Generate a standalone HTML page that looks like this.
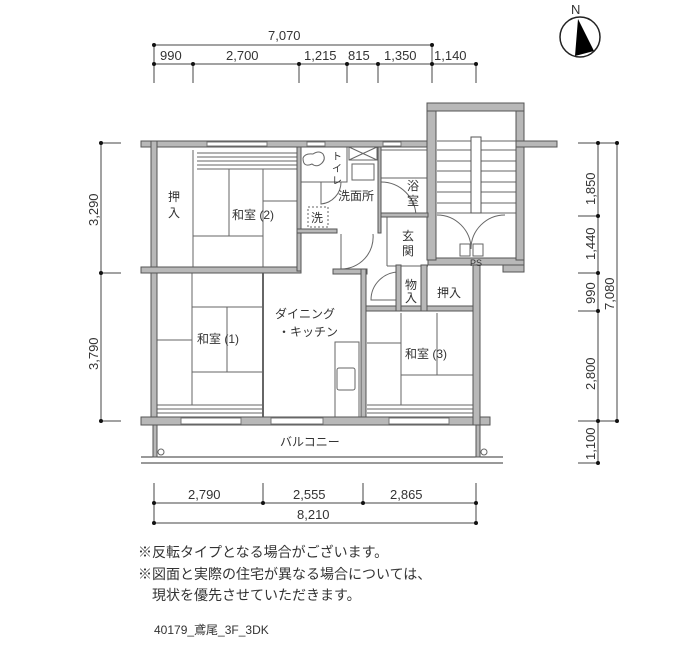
<!DOCTYPE html>
<html><head><meta charset="utf-8"><style>
body{margin:0;background:#fff;width:700px;height:650px;overflow:hidden}
svg{display:block}
text{font-family:"Liberation Sans","Noto Sans CJK JP",sans-serif;fill:#333}
.w{fill:#b8b8b8;stroke:#555;stroke-width:1}
.l{stroke:#666;stroke-width:1;fill:none}
.d{stroke:#444;stroke-width:1;fill:none}
.dot{fill:#111}
</style></head><body>
<svg width="700" height="650" viewBox="0 0 700 650">
<!-- top dims -->
<g class="d">
<line x1="154" y1="45" x2="432" y2="45"/>
<line x1="154" y1="64" x2="476" y2="64"/>
<line x1="154" y1="45" x2="154" y2="83"/><line x1="193" y1="64" x2="193" y2="83"/>
<line x1="299" y1="64" x2="299" y2="83"/><line x1="347" y1="64" x2="347" y2="83"/>
<line x1="378" y1="64" x2="378" y2="83"/><line x1="432" y1="45" x2="432" y2="83"/>
<line x1="476" y1="64" x2="476" y2="83"/>
</g>
<g class="dot">
<circle cx="154" cy="45" r="2"/><circle cx="432" cy="45" r="2"/>
<circle cx="154" cy="64" r="2"/><circle cx="193" cy="64" r="2"/><circle cx="299" cy="64" r="2"/>
<circle cx="347" cy="64" r="2"/><circle cx="378" cy="64" r="2"/><circle cx="432" cy="64" r="2"/><circle cx="476" cy="64" r="2"/>
</g>
<g font-size="13">
<text x="268" y="40">7,070</text>
<text x="160" y="60">990</text><text x="226" y="60">2,700</text>
<text x="304" y="60">1,215</text><text x="348" y="60">815</text>
<text x="384" y="60">1,350</text><text x="434" y="60">1,140</text>
</g>
<!-- compass -->
<circle cx="580" cy="37" r="20" fill="none" stroke="#222" stroke-width="1.5"/>
<polygon points="578,19 575,56 594,51" fill="#000"/>
<text x="571" y="14" font-size="13">N</text>
<!-- left dims -->
<g class="d"><line x1="101" y1="143" x2="101" y2="421"/>
<line x1="101" y1="143" x2="121" y2="143"/><line x1="101" y1="273" x2="121" y2="273"/><line x1="101" y1="421" x2="121" y2="421"/></g>
<g class="dot"><circle cx="101" cy="143" r="2"/><circle cx="101" cy="273" r="2"/><circle cx="101" cy="421" r="2"/></g>
<text font-size="13" transform="translate(98,226) rotate(-90)">3,290</text>
<text font-size="13" transform="translate(98,370) rotate(-90)">3,790</text>
<!-- right dims -->
<g class="d"><line x1="598" y1="143" x2="598" y2="463"/><line x1="617" y1="143" x2="617" y2="421"/>
<line x1="578" y1="143" x2="617" y2="143"/><line x1="578" y1="216" x2="598" y2="216"/>
<line x1="578" y1="273" x2="598" y2="273"/><line x1="578" y1="311" x2="598" y2="311"/>
<line x1="578" y1="421" x2="617" y2="421"/><line x1="578" y1="463" x2="598" y2="463"/></g>
<g class="dot"><circle cx="598" cy="143" r="2"/><circle cx="617" cy="143" r="2"/><circle cx="598" cy="216" r="2"/><circle cx="598" cy="273" r="2"/><circle cx="598" cy="311" r="2"/><circle cx="598" cy="421" r="2"/><circle cx="617" cy="421" r="2"/><circle cx="598" cy="463" r="2"/></g>
<g font-size="13">
<text transform="translate(595,205) rotate(-90)">1,850</text>
<text transform="translate(595,260) rotate(-90)">1,440</text>
<text transform="translate(595,304) rotate(-90)">990</text>
<text transform="translate(614,310) rotate(-90)">7,080</text>
<text transform="translate(595,390) rotate(-90)">2,800</text>
<text transform="translate(595,460) rotate(-90)">1,100</text>
</g>
<!-- bottom dims -->
<g class="d"><line x1="154" y1="503" x2="476" y2="503"/><line x1="154" y1="523" x2="476" y2="523"/>
<line x1="154" y1="483" x2="154" y2="523"/><line x1="263" y1="483" x2="263" y2="503"/>
<line x1="363" y1="483" x2="363" y2="503"/><line x1="476" y1="483" x2="476" y2="523"/></g>
<g class="dot"><circle cx="154" cy="503" r="2"/><circle cx="263" cy="503" r="2"/><circle cx="363" cy="503" r="2"/><circle cx="476" cy="503" r="2"/><circle cx="154" cy="523" r="2"/><circle cx="476" cy="523" r="2"/></g>
<g font-size="13"><text x="188" y="499">2,790</text><text x="293" y="499">2,555</text><text x="390" y="499">2,865</text><text x="297" y="519">8,210</text></g>

<!-- interior light lines (tatami etc) -->
<g class="l">
<line x1="193" y1="150" x2="193" y2="268"/>
<line x1="197" y1="153" x2="297" y2="153"/><line x1="197" y1="157" x2="297" y2="157"/><line x1="197" y1="161" x2="297" y2="161"/><line x1="197" y1="165" x2="297" y2="165"/><line x1="197" y1="169" x2="297" y2="169"/>
<line x1="229" y1="169" x2="229" y2="236"/><line x1="263" y1="169" x2="263" y2="268"/>
<line x1="263" y1="201" x2="297" y2="201"/><line x1="193" y1="236" x2="263" y2="236"/>
<line x1="193" y1="268" x2="297" y2="268"/><line x1="297" y1="201" x2="297" y2="268"/>
<line x1="192" y1="273" x2="192" y2="405"/><line x1="157" y1="340" x2="192" y2="340"/>
<line x1="192" y1="307" x2="263" y2="307"/><line x1="227" y1="307" x2="227" y2="372"/><line x1="192" y1="372" x2="263" y2="372"/>
<line x1="157" y1="405" x2="263" y2="405"/><line x1="157" y1="409" x2="263" y2="409"/><line x1="157" y1="413" x2="263" y2="413"/>
<line x1="263" y1="273" x2="263" y2="417" stroke-width="2"/>
<line x1="401" y1="313" x2="401" y2="405"/><line x1="367" y1="343" x2="401" y2="343"/>
<line x1="401" y1="375" x2="473" y2="375"/><line x1="437" y1="313" x2="437" y2="375"/>
<line x1="367" y1="405" x2="473" y2="405"/><line x1="367" y1="409" x2="473" y2="409"/><line x1="367" y1="413" x2="473" y2="413"/>
<rect x="335" y="342" width="24" height="75"/><rect x="337" y="368" width="18" height="22" rx="2"/>
<!-- toilet -->
<rect x="300" y="147" width="47" height="35"/>
<path d="M303,158 q2,-5 10,-4 q6,-4 10,0 q3,5 -1,9 q-5,5 -10,1 q-9,4 -9,-6z"/>
<rect x="349" y="147" width="28" height="13"/><line x1="349" y1="147" x2="377" y2="160"/><line x1="377" y1="147" x2="349" y2="160"/>
<rect x="352" y="164" width="22" height="16"/>
<rect x="308" y="207" width="20" height="20" stroke-dasharray="2,2"/>
<path d="M321,182 v22 a22,22 0 0 0 20,-22"/>
<path d="M341,234 v35 a32,32 0 0 0 32,-35"/>
<path d="M381,182 a35,35 0 0 1 35,35 h-35"/>
<rect x="381" y="150" width="46" height="28"/>
<line x1="387" y1="217" x2="387" y2="266"/><line x1="387" y1="266" x2="428" y2="266"/>
<path d="M399,272 a28,28 0 0 0 -28,28 h28"/>
<path d="M437,215 a34,34 0 0 1 34,34 M505,215 a34,34 0 0 0 -34,34"/>
<rect x="460" y="244" width="10" height="12"/><rect x="473" y="244" width="10" height="12"/>
<!-- stairs -->
<g><line x1="437" y1="141" x2="516" y2="141"/><line x1="437" y1="150" x2="516" y2="150"/><line x1="437" y1="161" x2="516" y2="161"/><line x1="437" y1="171" x2="516" y2="171"/><line x1="437" y1="182" x2="516" y2="182"/><line x1="437" y1="192" x2="516" y2="192"/><line x1="437" y1="203" x2="516" y2="203"/><line x1="437" y1="213" x2="516" y2="213"/></g>
<rect x="471" y="137" width="10" height="76" fill="#fff" stroke="#555"/>
<!-- balcony -->
<line x1="141" y1="457" x2="503" y2="457" stroke="#333"/><line x1="141" y1="463" x2="503" y2="463" stroke="#333"/>
<circle cx="161" cy="452" r="3"/><circle cx="484" cy="452" r="3"/>
</g>

<!-- walls -->
<g class="w">
<rect x="141" y="141" width="287" height="6"/>
<rect x="151" y="141" width="6" height="284"/>
<rect x="141" y="267" width="160" height="6"/>
<rect x="333" y="269" width="34" height="5"/>
<rect x="361" y="269" width="5" height="150"/>
<rect x="366" y="306" width="107" height="5"/>
<rect x="141" y="417" width="349" height="8"/>
<rect x="473" y="265" width="7" height="160"/>
<rect x="428" y="258" width="96" height="7"/>
<rect x="503" y="265" width="21" height="7"/>
<rect x="427" y="103" width="9" height="157"/>
<rect x="516" y="103" width="8" height="157"/>
<rect x="427" y="103" width="97" height="8"/>
<rect x="516" y="141" width="41" height="6"/>
<rect x="297" y="147" width="4" height="124"/>
<rect x="297" y="229" width="40" height="4"/>
<rect x="378" y="147" width="3" height="86"/>
<rect x="381" y="213" width="47" height="4"/>
<rect x="396" y="265" width="5" height="46"/>
<rect x="421" y="265" width="6" height="46"/>
<rect x="153" y="425" width="4" height="32"/>
<rect x="476" y="425" width="4" height="32"/>
</g>
<!-- window gaps -->
<g fill="#fff" stroke="#777" stroke-width="1">
<rect x="207" y="142" width="60" height="4"/><rect x="307" y="142" width="18" height="4"/><rect x="383" y="142" width="18" height="4"/>
<rect x="181" y="418" width="60" height="6"/><rect x="271" y="418" width="52" height="6"/><rect x="389" y="418" width="60" height="6"/>
</g>

<!-- labels -->
<g font-size="12">
<text x="168" y="201">押</text><text x="168" y="217">入</text>
<text x="232" y="219">和室 (2)</text>
<text x="332" y="160" font-size="10">ト</text><text x="332" y="172" font-size="10">イ</text><text x="332" y="184" font-size="10">レ</text>
<text x="338" y="200">洗面所</text>
<text x="311" y="222">洗</text>
<text x="407" y="190">浴</text><text x="407" y="205">室</text>
<text x="402" y="240">玄</text><text x="402" y="255">関</text>
<text x="470" y="266" font-size="9">PS</text>
<text x="405" y="289">物</text><text x="405" y="302">入</text>
<text x="437" y="297">押入</text>
<text x="275" y="318">ダイニング</text><text x="278" y="336">・キッチン</text>
<text x="197" y="343">和室 (1)</text>
<text x="405" y="358">和室 (3)</text>
<text x="280" y="446">バルコニー</text>
</g>
<g font-size="14" fill="#222">
<text x="138" y="557">※反転タイプとなる場合がございます。</text>
<text x="138" y="579">※図面と実際の住宅が異なる場合については、</text>
<text x="152" y="600">現状を優先させていただきます。</text>
<text x="154" y="634" font-size="12">40179_鳶尾_3F_3DK</text>
</g>
</svg>
</body></html>
